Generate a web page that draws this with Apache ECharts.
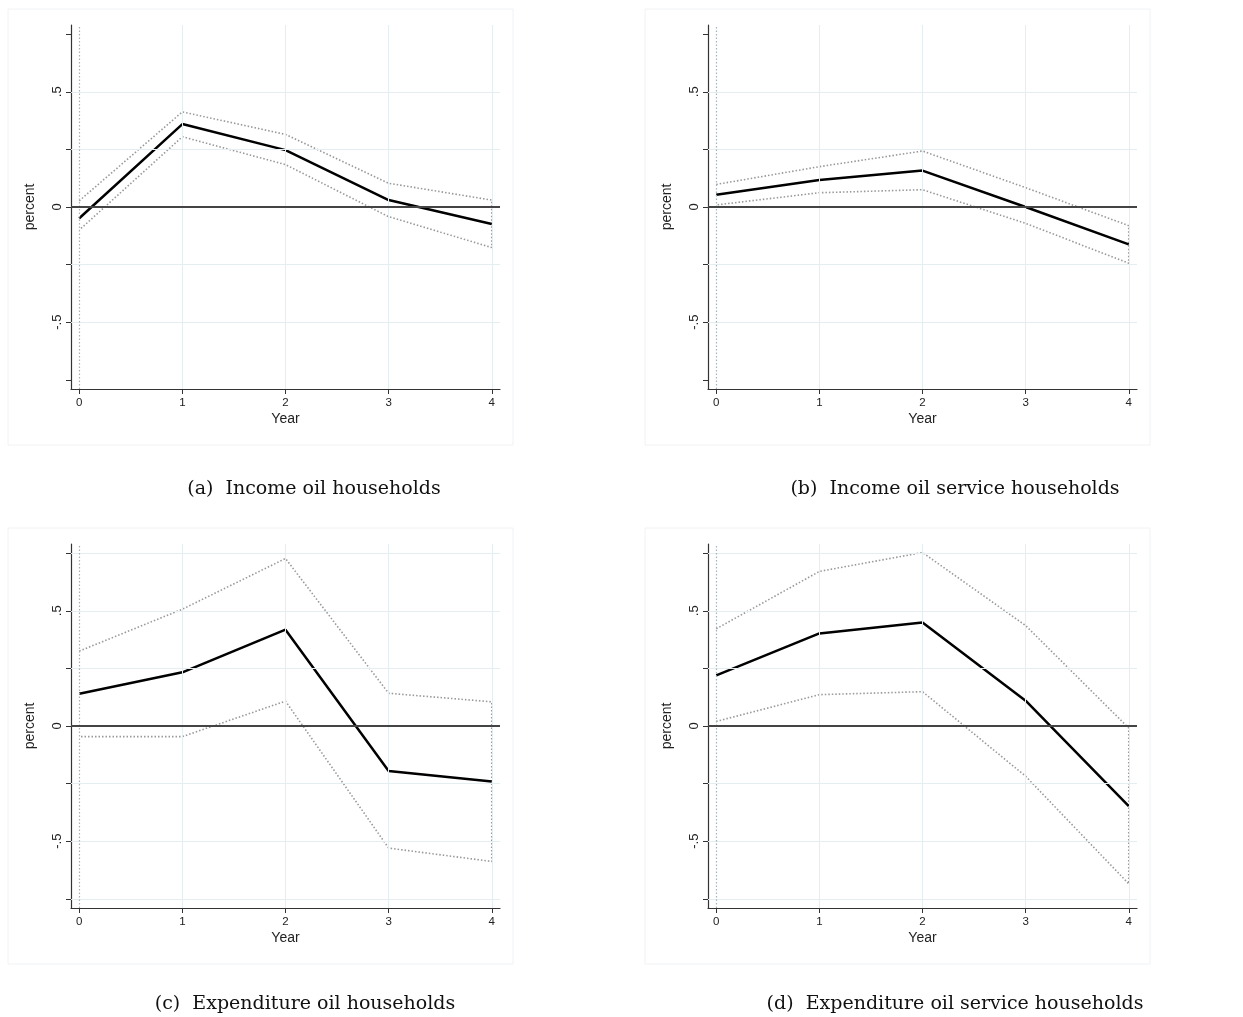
<!DOCTYPE html>
<html>
<head>
<meta charset="utf-8">
<script src="https://cdn.jsdelivr.net/npm/echarts@6/dist/echarts.min.js"></script>
<style>
  html, body { margin: 0; padding: 0; background: #fff; }
  #chart { width: 1243px; height: 1017px; }
</style>
</head>
<body>
<div id="chart"></div>
<script>
// years after shock
const years = [0, 1, 2, 3, 4];

// (a) income, oil households
const incOilCoef  = [-0.049, 0.360, 0.247, 0.030, -0.074];
const incOilUpper = [0.027, 0.413, 0.315, 0.103, 0.030];
const incOilLower = [-0.100, 0.305, 0.184, -0.042, -0.176];

// (b) income, oil service households
const incSrvCoef  = [0.053, 0.117, 0.158, 0.000, -0.162];
const incSrvUpper = [0.098, 0.175, 0.243, 0.084, -0.081];
const incSrvLower = [0.009, 0.062, 0.075, -0.071, -0.244];

// (c) expenditure, oil households
const expOilCoef  = [0.140, 0.233, 0.418, -0.195, -0.241];
const expOilUpper = [0.325, 0.507, 0.727, 0.142, 0.105];
const expOilLower = [-0.046, -0.046, 0.108, -0.530, -0.588];

// (d) expenditure, oil service households
const expSrvCoef  = [0.220, 0.402, 0.449, 0.110, -0.348];
const expSrvUpper = [0.422, 0.671, 0.753, 0.436, -0.009];
const expSrvLower = [0.020, 0.136, 0.149, -0.218, -0.685];

// axis ticks / labels
const yTicks = [-0.75, -0.5, -0.25, 0, 0.25, 0.5, 0.75];
const yLabels = [-0.5, 0, 0.5];
const yGridTop = [-0.5, -0.25, 0.25, 0.5];
const yGridBottom = [-0.75, -0.5, -0.25, 0.25, 0.5, 0.75];
const xGrid = [1, 2, 3, 4];
const zeroLine = [0];
const baseYear = [0];

const captions = [
  '(a)  Income oil households',
  '(b)  Income oil service households',
  '(c)  Expenditure oil households',
  '(d)  Expenditure oil service households'
];

const panels = [
  { coef: incOilCoef, upper: incOilUpper, lower: incOilLower, grid: yGridTop },
  { coef: incSrvCoef, upper: incSrvUpper, lower: incSrvLower, grid: yGridTop },
  { coef: expOilCoef, upper: expOilUpper, lower: expOilLower, grid: yGridBottom },
  { coef: expSrvCoef, upper: expSrvUpper, lower: expSrvLower, grid: yGridBottom }
];

// layout
const gridPos = [
  { left: 71, top: 25 },
  { left: 708, top: 25 },
  { left: 71, top: 544 },
  { left: 708, top: 544 }
];
const boxPos = [
  { x: 8, y: 9 }, { x: 645, y: 9 }, { x: 8, y: 528 }, { x: 645, y: 528 }
];
const captionPos = [
  { x: 309, y: 475 }, { x: 950, y: 475 }, { x: 300, y: 990 }, { x: 950, y: 990 }
];

const axisFont = 'Liberation Sans';
const fmtY = v => v === 0 ? '0' : (v < 0 ? '-' : '') + String(Math.abs(v)).replace(/^0/, '');

const chart = echarts.init(document.getElementById('chart'));

const grids = [], xAxes = [], yAxes = [], series = [], titles = [], graphics = [];

panels.forEach((p, i) => {
  grids.push({ left: gridPos[i].left, top: gridPos[i].top, width: 429, height: 364 });

  xAxes.push({
    type: 'value', gridIndex: i, min: -0.08, max: 4.08,
    axisLine: { onZero: false, lineStyle: { color: '#333', width: 1.2 } },
    axisTick: { show: true, customValues: years, length: 5, lineStyle: { color: '#333' } },
    axisLabel: { customValues: years, fontSize: 11.5, color: '#222', margin: 8, fontFamily: axisFont },
    splitLine: { show: false },
    name: 'Year', nameLocation: 'middle', nameGap: 23,
    nameTextStyle: { fontSize: 14, color: '#222', fontFamily: axisFont }
  });

  yAxes.push({
    type: 'value', gridIndex: i, min: -0.79, max: 0.79,
    axisLine: { show: true, onZero: false, lineStyle: { color: '#333', width: 1.2 } },
    axisTick: { show: true, customValues: yTicks, length: 5, lineStyle: { color: '#333' } },
    axisLabel: { customValues: yLabels, rotate: 90, formatter: fmtY, fontSize: 13, color: '#222', margin: 7, fontFamily: axisFont },
    splitLine: { show: false },
    name: 'percent', nameLocation: 'middle', nameGap: 34,
    nameTextStyle: { fontSize: 14, color: '#222', fontFamily: axisFont }
  });

  // confidence band outline: upper going right, lower coming back
  const band = years.map((x, k) => [x, p.upper[k]])
    .concat(years.slice().reverse().map(x => [x, p.lower[years.indexOf(x)]]));

  const gridLineStyle = { color: '#e4eef0', width: 1, type: 'solid' };
  series.push({
    type: 'line', xAxisIndex: i, yAxisIndex: i, data: band,
    showSymbol: false, silent: true, z: 2,
    lineStyle: { color: '#999', width: 1.6, type: [1.5, 2] },
    markLine: {
      symbol: 'none', silent: true, label: { show: false }, animation: false,
      data: p.grid.map(v => ({ yAxis: v, lineStyle: gridLineStyle }))
        .concat(xGrid.map(v => ({ xAxis: v, lineStyle: gridLineStyle })))
        .concat(baseYear.map(v => ({ xAxis: v, lineStyle: { color: '#a3b4b8', width: 1.2, type: [1.5, 2] } })))
        .concat(zeroLine.map(v => ({ yAxis: v, lineStyle: { color: '#444', width: 2, type: 'solid' } })))
    }
  });

  series.push({
    type: 'line', xAxisIndex: i, yAxisIndex: i, z: 3,
    data: years.map((x, k) => [x, p.coef[k]]),
    showSymbol: false, silent: true,
    lineStyle: { color: '#000', width: 2.5 }
  });

  titles.push({
    text: captions[i], left: captionPos[i].x, top: captionPos[i].y, textAlign: 'center',
    textStyle: { fontFamily: 'DejaVu Serif', fontSize: 19, fontWeight: 'normal', color: '#111' }
  });

  graphics.push({
    type: 'rect', shape: { x: boxPos[i].x, y: boxPos[i].y, width: 505, height: 436 },
    style: { fill: 'none', stroke: '#eef2f4', lineWidth: 1 }, silent: true, z: -1
  });
});

chart.setOption({
  animation: false,
  backgroundColor: '#fff',
  title: titles,
  grid: grids,
  xAxis: xAxes,
  yAxis: yAxes,
  series: series,
  graphic: graphics
});
</script>
</body>
</html>
